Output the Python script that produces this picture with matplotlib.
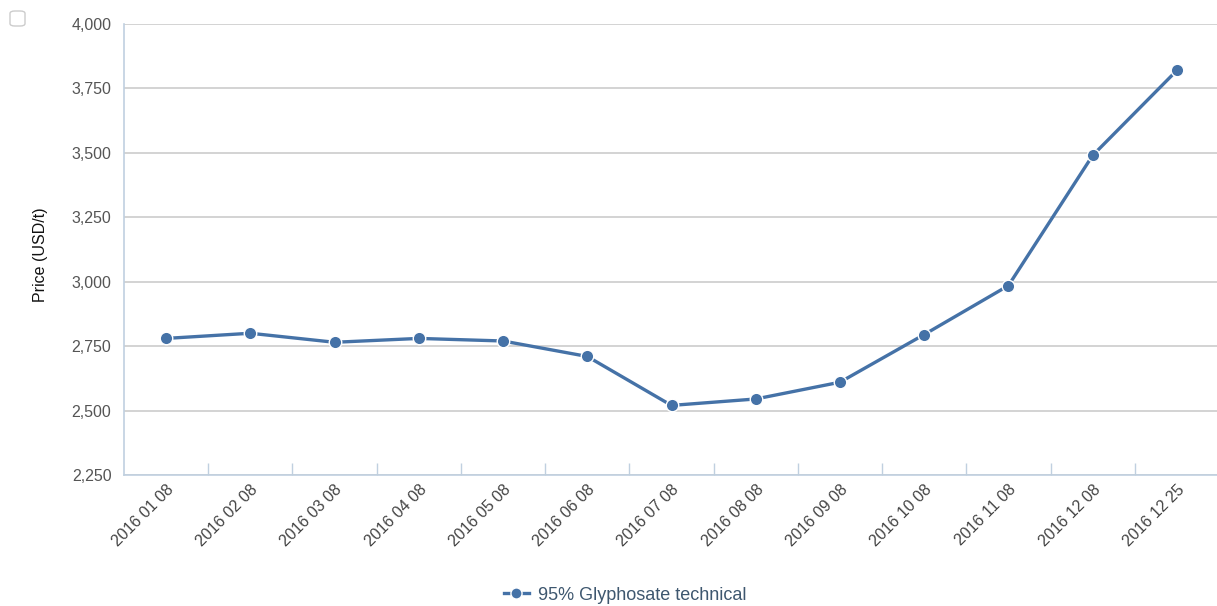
import matplotlib
matplotlib.use("Agg")
import matplotlib.pyplot as plt
from matplotlib.patches import FancyBboxPatch
from matplotlib.lines import Line2D

categories = ["2016 01 08", "2016 02 08", "2016 03 08", "2016 04 08", "2016 05 08",
              "2016 06 08", "2016 07 08", "2016 08 08", "2016 09 08", "2016 10 08",
              "2016 11 08", "2016 12 08", "2016 12 25"]
prices = [2780, 2800, 2765, 2780, 2770, 2710, 2520, 2545, 2610, 2795, 2985, 3490, 3820]
series_name = "95% Glyphosate technical"
y_ticks = [2250, 2500, 2750, 3000, 3250, 3500, 3750, 4000]

plt.rcParams['font.family'] = ['Liberation Sans', 'DejaVu Sans']

W, H = 1217, 606
fig = plt.figure(figsize=(W / 100, H / 100), dpi=100)
ax = fig.add_axes([124 / W, 1 - 475 / H, (1219 - 124) / W, (475 - 24) / H])

line_color = "#4572A7"
x = list(range(len(categories)))
ax.plot(x, prices, color=line_color, lw=2.4, marker='o', markersize=9,
        markerfacecolor=line_color, markeredgecolor='white', markeredgewidth=1.0,
        zorder=3, solid_capstyle='round')

ax.set_xlim(-0.5, len(categories) - 0.5)
ax.set_ylim(2250, 4000)
ax.set_yticks(y_ticks)
ax.set_yticklabels([f"{v:,}" for v in y_ticks])
ax.yaxis.grid(True, color="#C8C8C8", lw=1.1)
ax.set_axisbelow(True)

# x ticks at category boundaries, labels at centers
ax.set_xticks([i + 0.5 for i in range(len(categories) - 1)])
ax.set_xticklabels([])
ax.set_xticks(x, minor=True)
ax.set_xticklabels(categories, minor=True, rotation=45, ha='right', va='top',
                   rotation_mode='anchor', fontsize=11.5, color="#444444")
ax.tick_params(axis='x', which='major', direction='in', length=9, width=1,
               color="#C0D0E0")
ax.tick_params(axis='x', which='minor', length=0, pad=5)
ax.tick_params(axis='y', length=0, pad=9, labelsize=11.5, labelcolor="#555555")

for s in ['top', 'right']:
    ax.spines[s].set_visible(False)
for s in ['left', 'bottom']:
    ax.spines[s].set_color("#C0D0E0")
    ax.spines[s].set_linewidth(1.2)

ax.set_ylabel("Price (USD/t)", fontsize=11.5, color="#111111", va='center')
ax.yaxis.set_label_coords((40 - 124) / (1219 - 124), 0.489)

# legend
handle = Line2D([0], [0], color=line_color, lw=2.4, marker='o', markersize=8,
                markerfacecolor=line_color, markeredgecolor='white', markeredgewidth=1.0)
leg = fig.legend([handle], [series_name], loc='center', bbox_to_anchor=(625 / W, 1 - 595 / H),
                 frameon=False, fontsize=13, handlelength=1.4, handletextpad=0.5)
for t in leg.get_texts():
    t.set_color("#3E576F")

# export/checkbox button at top-left
box = FancyBboxPatch((10 / W, 1 - 26 / H), 15 / W, 15 / H,
                     boxstyle="round,pad=0,rounding_size=0.004",
                     transform=fig.transFigure, facecolor='white',
                     edgecolor="#CCCCCC", lw=1.0)
fig.patches.append(box)

fig.savefig("out.png", dpi=100)
